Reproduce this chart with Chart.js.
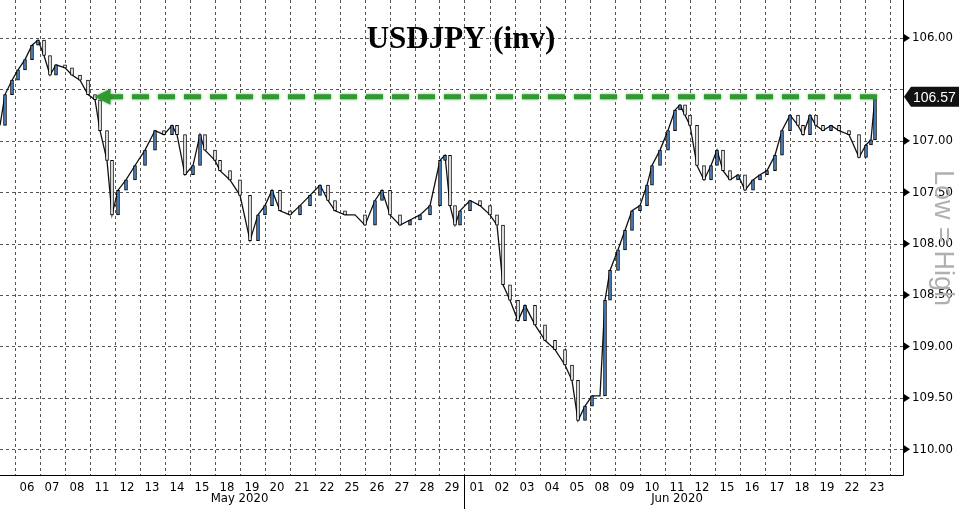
<!DOCTYPE html>
<html><head><meta charset="utf-8">
<script src="https://cdn.jsdelivr.net/npm/chart.js@4/dist/chart.umd.min.js"></script>
<style>html,body{margin:0;background:#fff}#w{width:960px;height:509px}</style>
</head><body><div id="w"><canvas id="c"></canvas></div>
<script>
const dayLabels=["06","07","08","11","12","13","14","15","18","19","20","21","22","25","26","27","28","29","01","02","03","04","05","08","09","10","11","12","15","16","17","18","19","22","23"];
const monthLabels=[{name:"May 2020",from:0,to:17},{name:"Jun 2020",from:18,to:34}];
const yTicks=[106.00,106.50,107.00,107.50,108.00,108.50,109.00,109.50,110.00];
const lastValue=106.57;
const refLevel=106.57;
// time in trading-day units, and USDJPY closes
const t=[-1.08,-0.88,-0.6,-0.36,-0.08,0.2,0.44,0.68,0.92,1.16,1.52,1.8,2.12,2.44,2.72,2.92,3.2,3.4,3.64,3.96,4.32,4.72,5.12,5.48,5.8,6.0,6.32,6.64,6.92,7.12,7.52,7.72,8.12,8.52,8.92,9.24,9.52,9.8,10.12,10.52,10.92,11.32,11.72,12.04,12.32,12.72,13.12,13.52,13.92,14.2,14.52,14.92,15.32,15.72,16.12,16.52,16.72,16.92,17.12,17.32,17.72,18.12,18.52,18.8,19.04,19.32,19.64,19.92,20.32,20.72,21.12,21.52,21.8,22.04,22.32,22.6,22.92,23.12,23.32,23.64,23.92,24.2,24.52,24.8,25.0,25.32,25.64,25.92,26.12,26.32,26.52,26.8,27.08,27.36,27.6,27.84,28.12,28.44,28.72,29.04,29.32,29.6,29.92,30.2,30.52,30.84,31.04,31.32,31.56,31.84,32.16,32.48,32.88,33.28,33.56,33.76,33.92,34.0,34.04];
const close=[106.85,106.55,106.41,106.31,106.21,106.07,106.02,106.17,106.36,106.26,106.29,106.36,106.41,106.55,106.60,106.90,107.19,107.72,107.48,107.38,107.24,107.09,106.90,106.94,106.85,106.94,107.33,107.24,106.94,107.09,107.19,107.29,107.38,107.53,107.97,107.72,107.63,107.48,107.68,107.72,107.63,107.53,107.43,107.58,107.68,107.72,107.72,107.82,107.58,107.48,107.72,107.82,107.77,107.72,107.63,107.19,107.14,107.63,107.82,107.68,107.58,107.63,107.72,107.82,108.40,108.55,108.75,108.60,108.79,108.94,109.03,109.18,109.33,109.72,109.58,109.48,109.48,108.55,108.26,108.06,107.87,107.68,107.63,107.43,107.24,107.09,106.90,106.70,106.65,106.75,106.85,107.24,107.38,107.24,107.09,107.29,107.38,107.33,107.48,107.38,107.33,107.29,107.14,106.90,106.75,106.85,106.94,106.75,106.85,106.90,106.85,106.90,106.94,107.16,107.04,106.99,106.57];
const n=Math.min(t.length,close.length);
const tt=t.slice(0,n),cc=close.slice(0,n);
const pts=tt.map((x,i)=>({x,y:cc[i]}));
const bodies=tt.slice(1).map((x,i)=>({x,y:[cc[i],cc[i+1]]}));
const bodyColors=bodies.map(b=>b.y[1]<b.y[0]?'#4a86c8':'#ffffff');

const deco={id:'deco',
 beforeDatasetsDraw(ch){const {ctx,chartArea:a,scales:{x,y}}=ch;ctx.save();
  ctx.strokeStyle='#555';ctx.lineWidth=1;ctx.setLineDash([3,3]);
  for(let i=-1;i<dayLabels.length;i++){const px=Math.round(x.getPixelForValue(i+0.5))+0.5;if(px<a.right-2&&px>a.left){ctx.beginPath();ctx.moveTo(px,a.top);ctx.lineTo(px,a.bottom);ctx.stroke();}}
  yTicks.forEach(v=>{const py=Math.round(y.getPixelForValue(v))+0.5;ctx.beginPath();ctx.moveTo(a.left,py);ctx.lineTo(a.right,py);ctx.stroke();});
  ctx.restore();},
 afterDatasetsDraw(ch){const {ctx,chartArea:a,scales:{x,y}}=ch;ctx.save();
  const gy=y.getPixelForValue(refLevel);const x0=x.getPixelForValue(2.7),x1=x.getPixelForValue(34.0);
  ctx.strokeStyle='#2f9a2f';ctx.lineWidth=5;ctx.setLineDash([17,9]);ctx.shadowColor='rgba(0,100,0,0.5)';ctx.shadowBlur=3;
  ctx.beginPath();ctx.moveTo(x1,gy);ctx.lineTo(x0+14,gy);ctx.stroke();ctx.setLineDash([]);
  ctx.fillStyle='#2f9a2f';ctx.beginPath();ctx.moveTo(x0,gy);ctx.lineTo(x0+16,gy-8);ctx.lineTo(x0+16,gy+8);ctx.closePath();ctx.fill();
  ctx.shadowBlur=0;
  ctx.strokeStyle='#000';ctx.lineWidth=1;ctx.beginPath();ctx.moveTo(a.right+0.5,0);ctx.lineTo(a.right+0.5,a.bottom+0.5);ctx.lineTo(a.left,a.bottom+0.5);ctx.stroke();
  ctx.font='13px "Liberation Sans Narrow","DejaVu Sans Condensed",sans-serif';ctx.textBaseline='middle';ctx.fillStyle='#000';
  yTicks.forEach(v=>{const py=y.getPixelForValue(v);if(Math.abs(v-lastValue)<0.2&&v!==107)return;
   ctx.beginPath();ctx.moveTo(a.right+1,py-4);ctx.lineTo(a.right+7,py);ctx.lineTo(a.right+1,py+4);ctx.fill();
   ctx.fillText(v.toFixed(2),a.right+9,py);});
  const ly=y.getPixelForValue(lastValue);ctx.fillStyle='#111';ctx.beginPath();ctx.moveTo(a.right+1,ly);ctx.lineTo(a.right+8,ly-10);ctx.lineTo(a.right+56,ly-10);ctx.lineTo(a.right+56,ly+10);ctx.lineTo(a.right+8,ly+10);ctx.closePath();ctx.fill();
  ctx.fillStyle='#fff';ctx.font='14px "Liberation Sans Narrow",sans-serif';ctx.fillText(lastValue.toFixed(2),a.right+10,ly+1);
  ctx.fillStyle='#000';ctx.textAlign='center';ctx.textBaseline='top';ctx.font='13px "Liberation Sans Narrow","DejaVu Sans Condensed",sans-serif';
  dayLabels.forEach((l,i)=>ctx.fillText(l,x.getPixelForValue(i),a.bottom+6));
  monthLabels.forEach(m=>ctx.fillText(m.name,(x.getPixelForValue(m.from)+x.getPixelForValue(m.to))/2,a.bottom+17));
  const sx=Math.round(x.getPixelForValue(17.5))+0.5;ctx.beginPath();ctx.moveTo(sx,a.bottom);ctx.lineTo(sx,a.bottom+34);ctx.stroke();
  ctx.font='bold 31px "Liberation Serif","DejaVu Serif",serif';ctx.textBaseline='middle';ctx.fillText('USDJPY (inv)',461,40);
  ctx.save();ctx.translate(942,238);ctx.rotate(Math.PI/2);ctx.fillStyle='#b0b0b0';ctx.font='27px "Liberation Sans",sans-serif';ctx.fillText('Low = High',0,0);ctx.restore();
  ctx.restore();}};

new Chart(document.getElementById('c'),{
 data:{datasets:[
  {type:'bar',data:bodies,backgroundColor:bodyColors,borderColor:'#000',borderWidth:1,barThickness:3,borderSkipped:false,order:1},
  {type:'line',data:pts,borderColor:'#111',borderWidth:1.3,pointRadius:0,tension:0,order:2}
 ]},
 options:{responsive:true,maintainAspectRatio:false,animation:false,
  layout:{padding:{left:0,right:57,top:0,bottom:34}},
  plugins:{legend:{display:false},tooltip:{enabled:false}},
  scales:{x:{type:'linear',min:-1.08,max:35.04,offset:false,display:false},
   y:{min:105.63,max:110.25,reverse:true,display:false}}},
 plugins:[deco]});
</script></body></html>
